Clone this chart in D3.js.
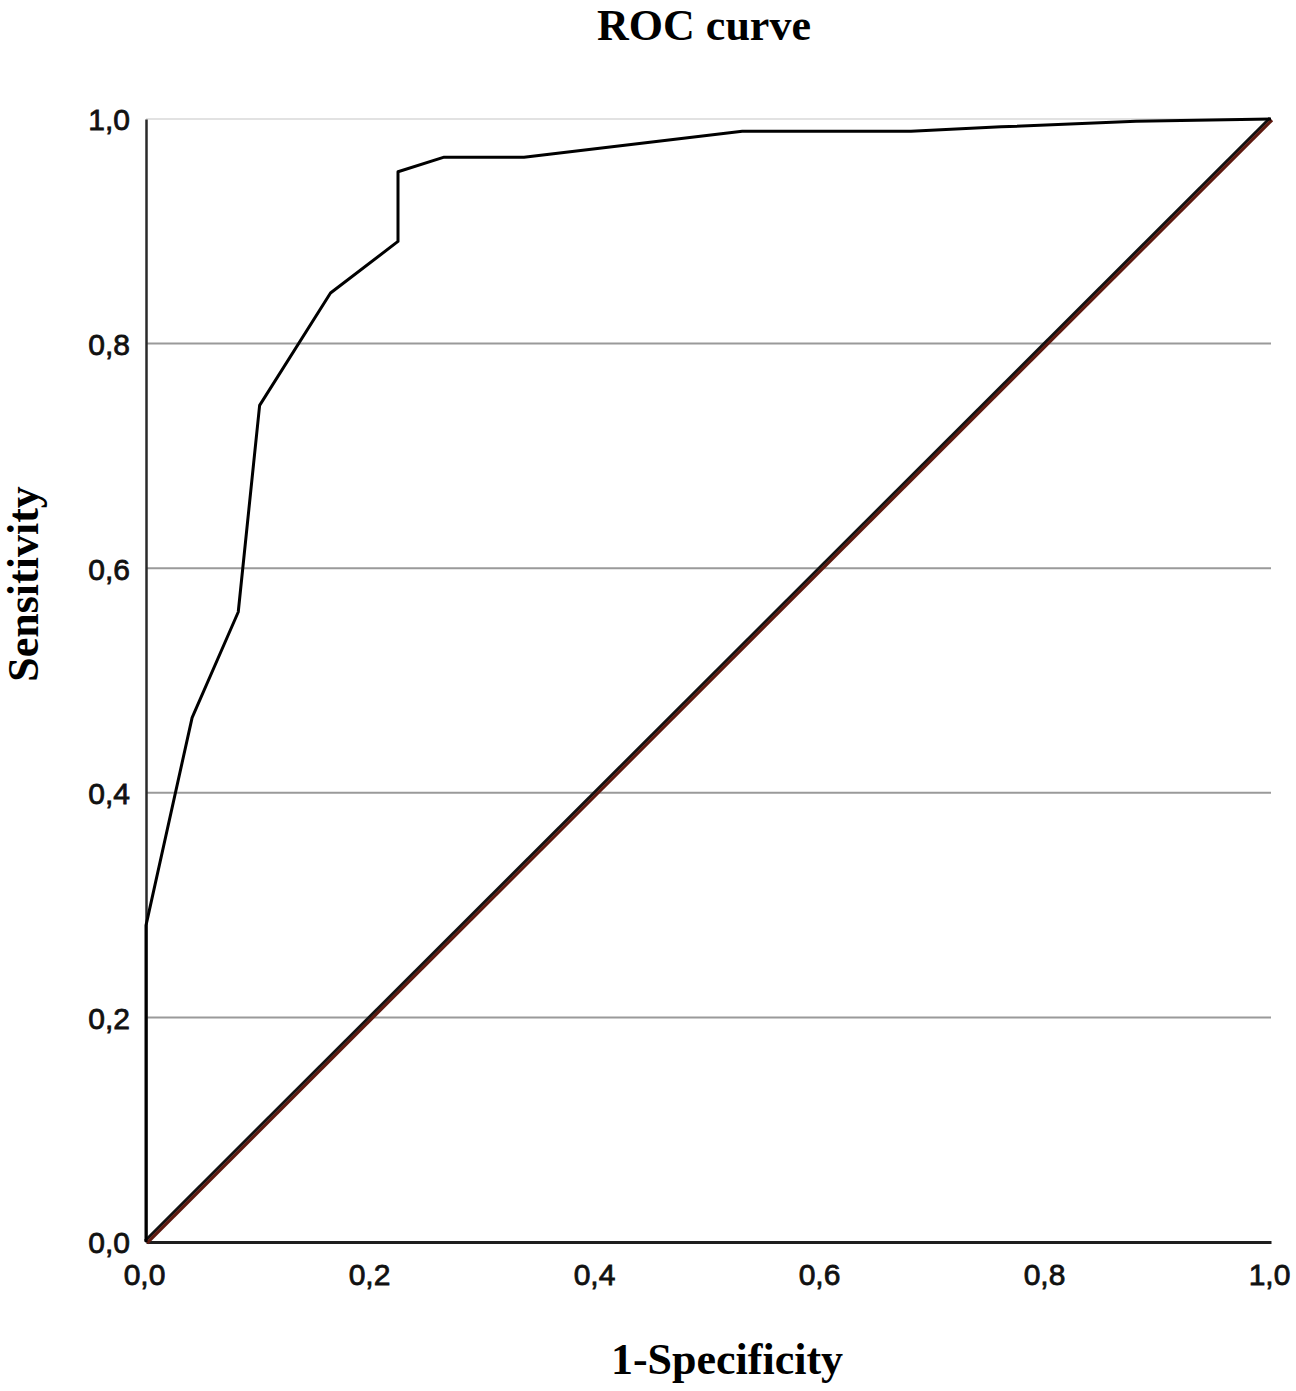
<!DOCTYPE html>
<html>
<head>
<meta charset="utf-8">
<script src="https://cdn.jsdelivr.net/npm/d3@7"></script>
<style>
  html, body { margin: 0; padding: 0; background: #fff; }
  svg { display: block; }
</style>
</head>
<body>
<svg id="chart" width="1296" height="1391"></svg>
<script>
// ---- data ----
const rocFpr = [0, 0, 0.041, 0.082, 0.101, 0.164, 0.224, 0.224, 0.265, 0.336, 0.530, 0.680, 0.760, 0.880, 1.0];
const rocTpr = [0, 0.282, 0.467, 0.561, 0.745, 0.845, 0.891, 0.953, 0.966, 0.966, 0.989, 0.989, 0.993, 0.998, 1.0];
const refFpr = [0, 1];
const refTpr = [0, 1];
const tickValues = [0, 0.2, 0.4, 0.6, 0.8, 1.0];
const tickLabels = ["0,0", "0,2", "0,4", "0,6", "0,8", "1,0"];
const titleText = "ROC curve";
const xTitle = "1-Specificity";
const yTitle = "Sensitivity";

// ---- layout ----
const svg = d3.select("#chart");
const plotLeft = 146, plotRight = 1271, plotTop = 119, plotBottom = 1242;
const x = d3.scaleLinear().domain([0, 1]).range([plotLeft, plotRight]);
const y = d3.scaleLinear().domain([0, 1]).range([plotBottom, plotTop]);

// gridlines
svg.append("g").selectAll("line").data(tickValues.filter(v => v > 0)).join("line")
  .attr("x1", plotLeft).attr("x2", plotRight)
  .attr("y1", d => y(d)).attr("y2", d => y(d))
  .attr("stroke", d => d === 1 ? "#e2e2e2" : "#9a9a9a")
  .attr("stroke-width", 2);

// y axis
const yAxis = d3.axisLeft(y).tickValues(tickValues)
  .tickFormat((d, i) => tickLabels[i]).tickSize(0).tickPadding(16);
const gy = svg.append("g").attr("transform", `translate(${plotLeft},0)`).call(yAxis);
gy.select(".domain").attr("stroke", "#2a2a2a").attr("stroke-width", 2.5);
gy.selectAll("text").attr("font-family", "'Liberation Sans', Arial, sans-serif")
  .attr("font-size", 30).attr("fill", "#111").attr("stroke", "#111").attr("stroke-width", 0.8)
  .attr("dy", "0.36em");

// x axis
const xAxis = d3.axisBottom(x).tickValues(tickValues)
  .tickFormat((d, i) => tickLabels[i]).tickSize(0).tickPadding(22);
const gx = svg.append("g").attr("transform", `translate(0,${plotBottom})`).call(xAxis);
gx.select(".domain").attr("stroke", "#1e1e1e").attr("stroke-width", 3);
gx.selectAll("text").attr("font-family", "'Liberation Sans', Arial, sans-serif")
  .attr("font-size", 30).attr("fill", "#111").attr("stroke", "#111").attr("stroke-width", 0.8)
  .attr("dx", "-2");

// reference diagonal
const refData = refFpr.map((v, i) => [v, refTpr[i]]);
const line = d3.line().x(d => x(d[0])).y(d => y(d[1]));
svg.append("path").datum(refData).attr("d", line)
  .attr("transform", "translate(-1,-1)")
  .attr("fill", "none").attr("stroke", "#111").attr("stroke-width", 3);
svg.append("path").datum(refData).attr("d", line)
  .attr("transform", "translate(1,1)")
  .attr("fill", "none").attr("stroke", "#5e1a10").attr("stroke-width", 3.2);

// ROC curve
const rocData = rocFpr.map((v, i) => [v, rocTpr[i]]);
svg.append("path").datum(rocData).attr("d", line)
  .attr("fill", "none").attr("stroke", "#000").attr("stroke-width", 3)
  .attr("stroke-linejoin", "round");

// titles
svg.append("text").attr("x", 704).attr("y", 40).attr("text-anchor", "middle")
  .attr("font-family", "'Liberation Serif', 'Times New Roman', serif")
  .attr("font-weight", "bold").attr("font-size", 44).text(titleText);
svg.append("text").attr("x", 727).attr("y", 1374).attr("text-anchor", "middle")
  .attr("font-family", "'Liberation Serif', 'Times New Roman', serif")
  .attr("font-weight", "bold").attr("font-size", 44).text(xTitle);
svg.append("text").attr("transform", "translate(38,584) rotate(-90)").attr("text-anchor", "middle")
  .attr("font-family", "'Liberation Serif', 'Times New Roman', serif")
  .attr("font-weight", "bold").attr("font-size", 44).text(yTitle);
</script>
</body>
</html>
